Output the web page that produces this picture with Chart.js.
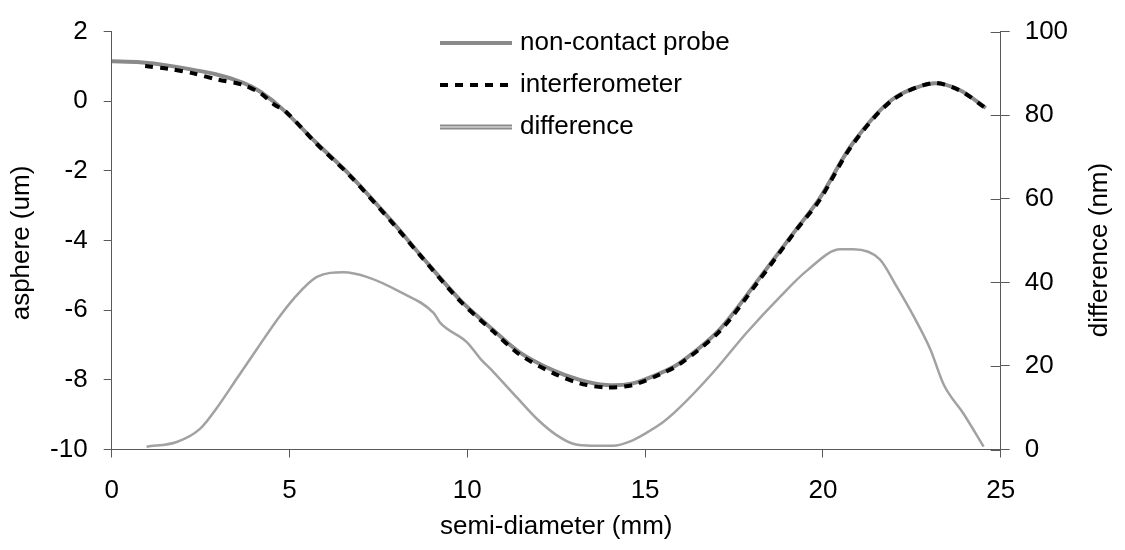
<!DOCTYPE html>
<html>
<head>
<meta charset="utf-8">
<script src="https://cdn.jsdelivr.net/npm/chart.js@4.4.1/dist/chart.umd.min.js"></script>
<style>
  html, body { margin: 0; padding: 0; background: #fff; }
  #wrap { width: 1125px; height: 550px; }
</style>
</head>
<body>
<div id="wrap"><canvas id="chart" width="1125" height="550"></canvas></div>
<script>
// semi-diameter (mm) vs asphere (um)
const probeX = [0, 0.8, 1.55, 2.95, 3.7, 4.17, 4.82, 5.76, 6.7, 7.9, 8.67, 9.8, 10.72, 11.47, 12.4, 13.16, 13.9, 14.65, 15.4, 15.97, 17.1, 18.2, 19.25, 19.9, 20.83, 21.95, 23.07, 23.83, 24.58];
const probeY = [1.15, 1.12, 1.03, 0.77, 0.53, 0.28, -0.24, -1.2, -2.12, -3.47, -4.4, -5.71, -6.56, -7.21, -7.72, -8.0, -8.15, -8.1, -7.82, -7.52, -6.55, -5.1, -3.68, -2.8, -1.22, 0.05, 0.51, 0.33, -0.19];

const interfX = [0.94, 1.6, 2.3, 2.95, 3.7, 4.2, 4.55, 4.9, 5.76, 6.7, 7.9, 8.67, 9.8, 10.72, 11.47, 12.4, 13.16, 13.9, 14.65, 15.4, 15.97, 17.1, 18.2, 19.25, 19.9, 20.83, 21.95, 23.07, 23.83, 24.58];
const interfY = [1.01, 0.93, 0.8, 0.63, 0.47, 0.22, -0.08, -0.3, -1.22, -2.14, -3.5, -4.42, -5.74, -6.6, -7.27, -7.8, -8.1, -8.22, -8.15, -7.85, -7.55, -6.6, -5.15, -3.7, -2.85, -1.25, 0.03, 0.52, 0.32, -0.2];

// difference (nm), right axis
const diffX = [0.98, 1.83, 2.49, 2.96, 3.52, 4.08, 4.65, 5.11, 5.77, 6.52, 7.17, 8.11, 9.05, 9.24, 10.0, 10.37, 10.73, 11.4, 12.0, 12.5, 13.0, 13.5, 14.1, 14.6, 15.0, 15.5, 15.97, 16.93, 17.86, 18.8, 19.55, 20.49, 20.86, 21.6, 22.08, 22.55, 23.02, 23.4, 23.96, 24.52];
const diffY = [0.66, 1.8, 5.0, 10, 17, 24, 31, 36, 41.3, 42.4, 41.3, 37.7, 32.7, 30.3, 25.6, 21.7, 18.6, 12.4, 7, 3.5, 1.3, 0.9, 0.9, 2, 3.8, 6.5, 10, 18.6, 28, 36.6, 42.8, 47.9, 47.9, 45.5, 38.9, 31.9, 24, 15.5, 8.5, 0.7];

const seriesNames = ['non-contact probe', 'interferometer', 'difference'];
const xTitle = 'semi-diameter (mm)';
const yTitle = 'asphere (um)';
const y2Title = 'difference (nm)';

const FONT = "'Liberation Sans', Arial, sans-serif";
const AXIS = '#595959';

const toPoints = (xs, ys) => xs.map((x, i) => ({ x: x, y: ys[i] }));

// legend drawn by hand so it can sit inside the plot, stacked
const legendPlugin = {
  id: 'stackLegend',
  afterDraw(chart) {
    const ctx = chart.ctx;
    const rows = [43, 85, 127];
    ctx.save();
    chart.data.datasets.forEach((ds, i) => {
      const y = rows[i];
      ctx.beginPath();
      ctx.moveTo(440, y);
      ctx.lineTo(512, y);
      if (ds.label === 'difference') {
        ctx.strokeStyle = '#8c8c8c';
        ctx.lineWidth = 5;
        ctx.setLineDash([]);
        ctx.stroke();
        ctx.beginPath();
        ctx.moveTo(440, y);
        ctx.lineTo(512, y);
        ctx.strokeStyle = '#d0d0d0';
        ctx.lineWidth = 1.5;
        ctx.stroke();
      } else {
        ctx.strokeStyle = ds.borderColor;
        ctx.lineWidth = 4;
        ctx.setLineDash(ds.borderDash || []);
        ctx.stroke();
      }
      ctx.setLineDash([]);
      ctx.fillStyle = '#000';
      ctx.font = '26px ' + FONT;
      ctx.textBaseline = 'middle';
      ctx.textAlign = 'left';
      ctx.fillText(ds.label, 520, y);
    });
    ctx.restore();
  }
};

// right axis ticks cross the axis line; both y titles read bottom-to-top
const axisExtras = {
  id: 'axisExtras',
  afterDraw(chart) {
    const s = chart.scales.y2;
    const ctx = chart.ctx;
    ctx.save();
    ctx.strokeStyle = AXIS;
    ctx.lineWidth = 1;
    s.ticks.forEach(t => {
      const py = Math.round(s.getPixelForValue(t.value)) + 0.5;
      ctx.beginPath();
      ctx.moveTo(s.left - 10, py);
      ctx.lineTo(s.left, py);
      ctx.stroke();
    });
    ctx.fillStyle = '#000';
    ctx.font = '26px ' + FONT;
    ctx.textAlign = 'center';
    ctx.textBaseline = 'middle';
    [[yTitle, 22, 243], [y2Title, 1100, 250]].forEach(([txt, x, y]) => {
      ctx.save();
      ctx.translate(x, y);
      ctx.rotate(-Math.PI / 2);
      ctx.fillText(txt, 0, 0);
      ctx.restore();
    });
    ctx.restore();
  }
};

new Chart(document.getElementById('chart'), {
  type: 'line',
  data: {
    datasets: [
      {
        label: seriesNames[0],
        data: toPoints(probeX, probeY),
        borderColor: '#8a8a8a',
        borderWidth: 4,
        pointRadius: 0,
        tension: 0.3,
        yAxisID: 'y',
        order: 1
      },
      {
        label: seriesNames[1],
        data: toPoints(interfX, interfY),
        borderColor: '#000000',
        borderWidth: 4,
        borderDash: [8, 7],
        pointRadius: 0,
        tension: 0.3,
        yAxisID: 'y',
        order: 0
      },
      {
        label: seriesNames[2],
        data: toPoints(diffX, diffY),
        borderColor: '#a2a2a2',
        borderWidth: 2.5,
        pointRadius: 0,
        cubicInterpolationMode: 'monotone',
        yAxisID: 'y2',
        order: 2
      }
    ]
  },
  options: {
    responsive: false,
    animation: false,
    layout: { padding: { top: 22, left: 0, right: 0, bottom: 0 } },
    plugins: {
      legend: { display: false },
      tooltip: { enabled: false }
    },
    scales: {
      x: {
        type: 'linear',
        min: 0, max: 25,
        ticks: { stepSize: 5, color: '#000', font: { family: FONT, size: 26 }, padding: 18, maxRotation: 0 },
        grid: { drawOnChartArea: false, tickLength: 8, color: AXIS },
        border: { color: AXIS },
        title: { display: true, text: xTitle, color: '#000', font: { family: FONT, size: 26 }, padding: { bottom: 8 } },
        afterFit(s) { s.height = 100.5; }
      },
      y: {
        position: 'left',
        min: -10, max: 2,
        ticks: { stepSize: 2, color: '#000', font: { family: FONT, size: 26 }, padding: 16 },
        grid: { drawOnChartArea: false, tickLength: 8, color: AXIS },
        border: { color: AXIS },
        afterFit(s) { s.width = 111.7; }
      },
      y2: {
        position: 'right',
        min: 0, max: 100,
        ticks: { stepSize: 20, color: '#000', font: { family: FONT, size: 26 }, padding: 15 },
        grid: { drawOnChartArea: false, tickLength: 9, color: AXIS },
        border: { color: AXIS },
        afterFit(s) { s.width = 124.3; }
      }
    }
  },
  plugins: [legendPlugin, axisExtras]
});
</script>
</body>
</html>
